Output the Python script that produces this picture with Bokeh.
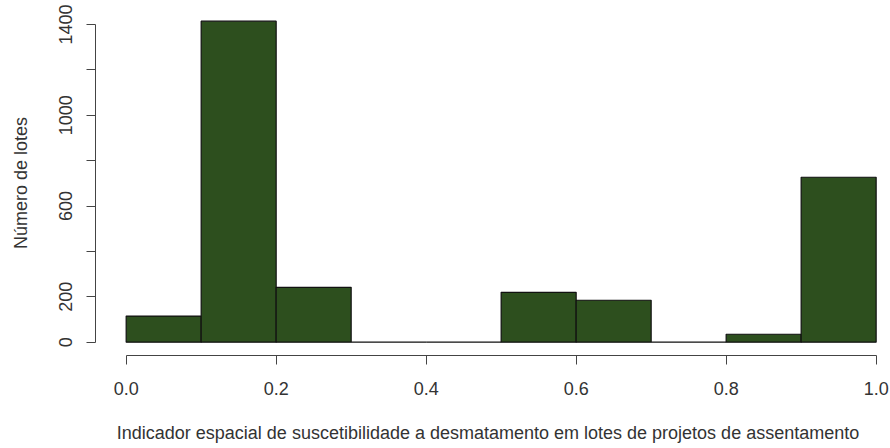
from bokeh.plotting import figure
from bokeh.models import Range1d, FixedTicker, NumeralTickFormatter
from bokeh.embed import file_html
from bokeh.resources import INLINE

# Histogram data (bin edges and counts)
bin_left = [0.0, 0.1, 0.2, 0.3, 0.4, 0.5, 0.6, 0.7, 0.8, 0.9]
bin_right = [0.1, 0.2, 0.3, 0.4, 0.5, 0.6, 0.7, 0.8, 0.9, 1.0]
counts = [115, 1415, 242, 0, 0, 220, 185, 0, 35, 727]

x_ticks = [0.0, 0.2, 0.4, 0.6, 0.8, 1.0]
y_ticks = [0, 200, 400, 600, 800, 1000, 1200, 1400]
y_tick_labels = {0: "0", 200: "200", 400: "", 600: "600", 800: "", 1000: "1000", 1200: "", 1400: "1400"}

x_title = "Indicador espacial de suscetibilidade a desmatamento em lotes de projetos de assentamento"
y_title = "Número de lotes"

FONT = "Liberation Sans"
TXT = "#333333"
FS = "18px"

p = figure(width=890, height=448, output_backend="svg", toolbar_location=None,
           x_range=Range1d(-0.0409, 1.0058), y_range=Range1d(-58.6, 1461.9),
           min_border_left=95, min_border_right=10, min_border_top=10, min_border_bottom=93)
p.outline_line_color = None
p.xgrid.visible = False
p.ygrid.visible = False
p.background_fill_color = "white"
p.border_fill_color = "white"

p.quad(left=bin_left, right=bin_right, bottom=[0] * len(counts), top=counts,
       fill_color="#2D4F1E", line_color="#111111", line_width=1.2)

xa = p.xaxis[0]
xa.ticker = FixedTicker(ticks=x_ticks)
xa.formatter = NumeralTickFormatter(format="0.0")
xa.bounds = (0, 1)
xa.axis_label = x_title
ya = p.yaxis[0]
ya.ticker = FixedTicker(ticks=y_ticks)
ya.major_label_overrides = y_tick_labels
ya.bounds = (0, 1400)
ya.axis_label = y_title
ya.major_label_orientation = "vertical"

for ax in (xa, ya):
    ax.axis_line_color = "#444444"
    ax.major_tick_line_color = "#444444"
    ax.axis_line_width = 1
    ax.major_tick_in = 0
    ax.major_tick_out = 9
    ax.minor_tick_line_color = None
    ax.major_label_text_font = FONT
    ax.major_label_text_font_size = FS
    ax.major_label_text_color = TXT
    ax.axis_label_text_font = FONT
    ax.axis_label_text_font_size = FS
    ax.axis_label_text_font_style = "normal"
    ax.axis_label_text_color = TXT

xa.major_label_standoff = 17
xa.axis_label_standoff = 25
ya.major_label_standoff = 14
ya.axis_label_standoff = 26

open("out.html", "w").write(file_html(p, INLINE))
